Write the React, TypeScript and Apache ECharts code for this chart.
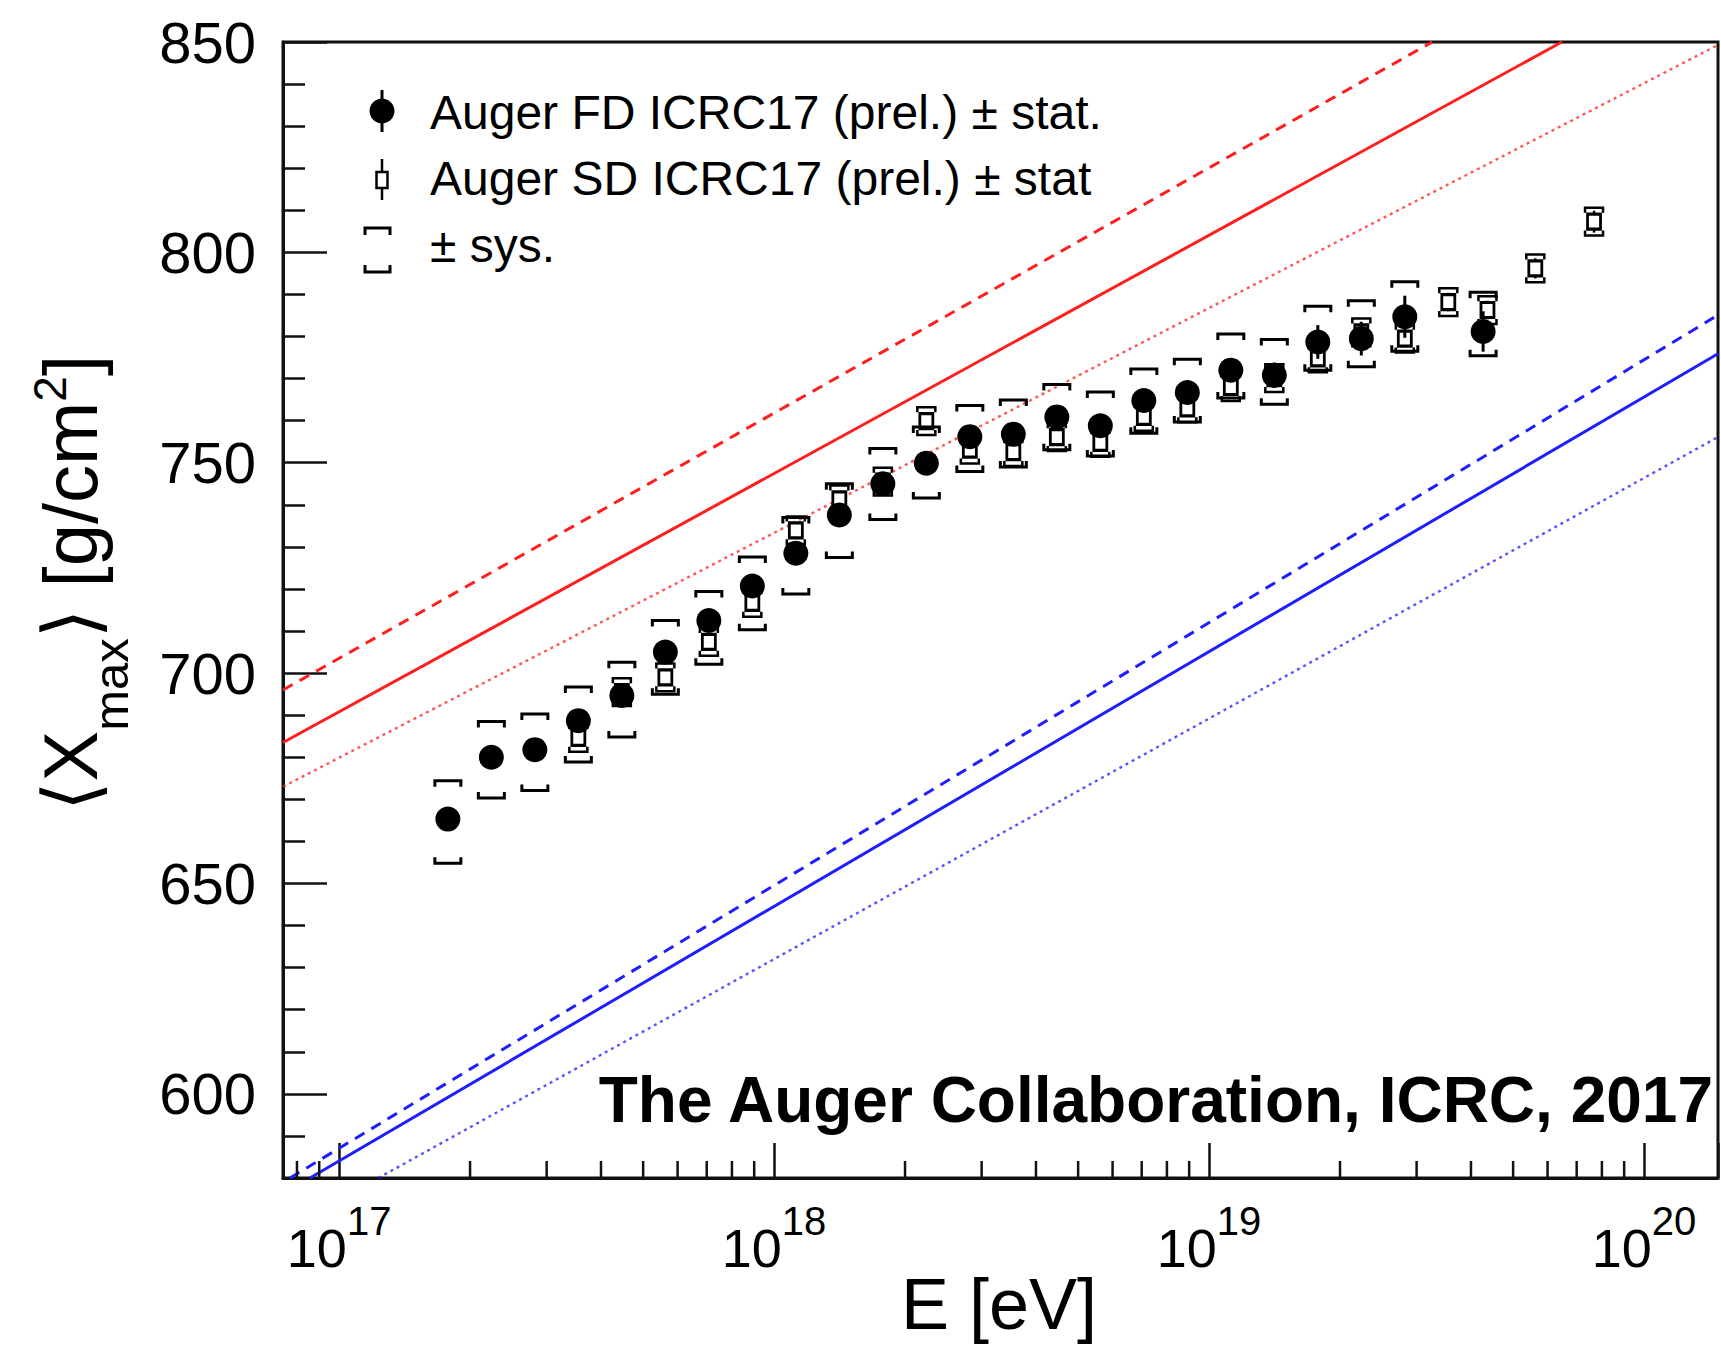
import React, { useEffect, useRef } from "react";
import * as echarts from "echarts";

// ---------------- data ----------------
// Auger FD (filled circles): lg(E/eV), <Xmax>, stat error, sys bracket high/low
const fdLgE = [17.25, 17.35, 17.45, 17.55, 17.65, 17.75, 17.85, 17.95, 18.05, 18.15, 18.25, 18.35,
  18.45, 18.55, 18.65, 18.75, 18.85, 18.95, 19.05, 19.15, 19.25, 19.35, 19.45, 19.63];
const fdXmax = [665.3, 680.0, 681.8, 688.7, 694.7, 705.0, 712.5, 720.7, 728.5, 737.6, 745.0, 749.9,
  756.2, 756.8, 760.9, 758.8, 764.8, 766.7, 772.0, 770.8, 778.7, 779.5, 784.7, 781.2];
const fdStat = [1.5, 1.5, 1.5, 1.5, 1.5, 1.5, 1.5, 1.5, 1.5, 1.5, 1.5, 1.5,
  1.5, 1.8, 2.0, 2.0, 2.2, 2.5, 2.8, 3.0, 4.0, 4.0, 5.0, 4.8];
const fdSysHigh = [674.4, 688.5, 690.3, 696.7, 702.6, 712.5, 719.4, 727.6, 737.0, 745.0, 753.4, 758.5,
  763.6, 764.9, 768.6, 766.8, 772.3, 774.6, 780.6, 779.3, 787.2, 788.5, 793.0, 790.5];
const fdSysLow = [654.8, 670.3, 672.1, 678.9, 684.8, 695.0, 702.1, 710.3, 718.8, 727.5, 736.5, 741.6,
  747.9, 749.0, 753.1, 751.6, 757.0, 759.7, 765.4, 763.9, 772.0, 772.8, 776.5, 775.4];

// Auger SD (open squares)
const sdLgE = [17.55, 17.65, 17.75, 17.85, 17.95, 18.05, 18.15, 18.25, 18.35, 18.45, 18.55, 18.65,
  18.75, 18.85, 18.95, 19.05, 19.15, 19.25, 19.35, 19.45, 19.55, 19.64, 19.75, 19.885];
const sdXmax = [684.6, 695.5, 699.0, 707.4, 716.7, 733.9, 741.3, 745.5, 759.9, 753.1, 752.5, 756.1,
  754.7, 760.9, 762.9, 768.0, 770.1, 774.8, 781.0, 779.5, 788.2, 786.3, 796.2, 807.3];
const sdStat = [1.5, 1.5, 1.5, 1.5, 1.5, 1.5, 1.5, 1.5, 1.5, 1.5, 1.5, 1.5,
  1.5, 1.5, 1.5, 1.5, 1.8, 1.8, 2.0, 2.0, 2.2, 2.2, 2.4, 2.6];
const sdSysPlus = [3.3, 3.3, 3.3, 3.3, 3.3, 3.3, 3.3, 3.3, 3.3, 3.3, 3.3, 3.3,
  3.3, 3.3, 3.3, 3.3, 3.3, 3.3, 3.3, 3.3, 3.3, 3.3, 3.3, 3.3];
const sdSysMinus = [3.3, 3.3, 3.3, 3.3, 3.3, 3.3, 3.3, 3.3, 3.3, 3.3, 3.3, 3.3,
  3.3, 3.3, 3.3, 3.3, 3.3, 3.3, 3.3, 3.3, 3.3, 3.3, 3.3, 3.3];

// model lines: [lg(E), Xmax] where each line meets the frame
const protonSolid = [[16.871, 683.5], [19.811, 850.0]];
const protonDashed = [[16.871, 696.0], [19.513, 850.0]];
const protonDotted = [[16.871, 673.0], [20.170, 849.3]];
const ironSolid = [[16.933, 580.0], [20.170, 775.9]];
const ironDashed = [[16.887, 580.0], [20.170, 785.1]];
const ironDotted = [[17.090, 580.0], [20.170, 756.1]];

// axes
const xLgMin = 16.871;
const xLgMax = 20.17;
const yMin = 580;
const yMax = 850;
const xMajorExponents = [17, 18, 19, 20];
const xMinorMantissas = [2, 3, 4, 5, 6, 7, 8, 9];
const xMinorDecades = [16, 17, 18, 19];

const legendLabels = [
  "Auger FD ICRC17 (prel.) \u00b1 stat.",
  "Auger SD ICRC17 (prel.) \u00b1 stat",
  "\u00b1 sys.",
];
const creditText = "The Auger Collaboration, ICRC, 2017";

const FONT = "'Liberation Sans', Arial, Helvetica, sans-serif";
const RED = "#ff1e1e";
const BLUE = "#1e1eff";
const INK = "#111111";

const toE = (lg: number) => Math.pow(10, lg);

export default function App() {
  const ref = useRef<HTMLDivElement>(null);

  useEffect(() => {
    document.body.style.margin = "0";
    if (!ref.current) return;
    const chart = echarts.init(ref.current, undefined, { renderer: "svg" });

    const lineSeries = (pts: number[][], color: string, type: any, width: number, opacity = 1) => ({
      type: "line",
      data: pts.map((p) => [toE(p[0]), p[1]]),
      showSymbol: false,
      symbol: "none",
      silent: true,
      clip: true,
      z: 1,
      lineStyle: { color, width, type, opacity, cap: "butt" },
    });

    const minorTicks: number[][] = [];
    xMinorDecades.forEach((d) =>
      xMinorMantissas.forEach((m) => {
        const v = m * Math.pow(10, d);
        if (v > toE(xLgMin) && v < toE(xLgMax)) minorTicks.push([v, yMin]);
      })
    );

    const errRender = (w: number, h: number, lw: number) => (params: any, api: any) => {
      const e = api.value(0);
      const v = api.value(1);
      const [cx] = api.coord([e, v]);
      const yHi = api.coord([e, api.value(2)])[1];
      const yLo = api.coord([e, api.value(3)])[1];
      const yS1 = api.coord([e, v + api.value(4)])[1];
      const yS2 = api.coord([e, v - api.value(4)])[1];
      const st = { stroke: "#000", lineWidth: lw, fill: "none" };
      return {
        type: "group",
        children: [
          { type: "line", shape: { x1: cx, y1: yS1, x2: cx, y2: yS2 }, style: { stroke: "#000", lineWidth: lw } },
          { type: "polyline", shape: { points: [[cx - w, yHi + h], [cx - w, yHi], [cx + w, yHi], [cx + w, yHi + h]] }, style: st },
          { type: "polyline", shape: { points: [[cx - w, yLo - h], [cx - w, yLo], [cx + w, yLo], [cx + w, yLo - h]] }, style: st },
        ],
      };
    };

    const option: any = {
      animation: false,
      backgroundColor: "#ffffff",
      grid: { left: 283, right: 3, top: 42, bottom: 171, show: true, borderColor: INK, borderWidth: 3, backgroundColor: "transparent" },
      xAxis: {
        type: "log",
        logBase: 10,
        min: toE(xLgMin),
        max: toE(xLgMax),
        axisLine: { show: true, onZero: false, lineStyle: { color: INK, width: 3 } },
        axisTick: { show: true, inside: true, length: 35, lineStyle: { color: INK, width: 2.5 } },
        minorTick: { show: false },
        splitLine: { show: false },
        axisLabel: {
          margin: 10,
          color: "#000",
          formatter: (v: number) => {
            const lg = Math.log10(v);
            const r = Math.round(lg);
            if (Math.abs(lg - r) > 1e-6 || xMajorExponents.indexOf(r) < 0) return "";
            return `{b|10}{s|${r}}`;
          },
          rich: {
            b: { fontSize: 54, lineHeight: 120, fontFamily: FONT, color: "#000" },
            s: { fontSize: 40, verticalAlign: "top", padding: [13, 0, 0, 0], fontFamily: FONT, color: "#000" },
          },
        },
      },
      yAxis: {
        type: "value",
        min: yMin,
        max: yMax,
        splitNumber: 5,
        minInterval: 50,
        maxInterval: 50,
        axisLine: { show: true, onZero: false, lineStyle: { color: INK, width: 3 } },
        axisTick: { show: true, inside: true, length: 44, lineStyle: { color: INK, width: 2.5 } },
        minorTick: { show: true, splitNumber: 5, length: 22, lineStyle: { color: INK, width: 2.5 } },
        splitLine: { show: false },
        axisLabel: {
          margin: 27,
          fontSize: 58,
          fontFamily: FONT,
          color: "#000",
          formatter: (v: number) => (v % 50 === 0 ? String(v) : ""),
        },
      },
      series: [
        lineSeries(protonDashed, RED, [11, 8], 3),
        lineSeries(protonSolid, RED, "solid", 3),
        lineSeries(protonDotted, RED, [3, 4], 2.4, 0.75),
        lineSeries(ironDashed, BLUE, [11, 8], 3),
        lineSeries(ironSolid, BLUE, "solid", 3),
        lineSeries(ironDotted, BLUE, [3, 4], 2.4, 0.75),
        {
          type: "custom",
          silent: true,
          z: 6,
          data: minorTicks,
          encode: { x: 0, y: 1 },
          renderItem: (params: any, api: any) => {
            const p = api.coord([api.value(0), api.value(1)]);
            return { type: "line", shape: { x1: p[0], y1: p[1], x2: p[0], y2: p[1] - 17 }, style: { stroke: INK, lineWidth: 2.5 } };
          },
        },
        {
          type: "custom",
          silent: true,
          z: 2,
          data: sdLgE.map((lg, i) => [toE(lg), sdXmax[i], sdXmax[i] + sdSysPlus[i], sdXmax[i] - sdSysMinus[i], sdStat[i]]),
          encode: { x: 0, y: 1 },
          renderItem: errRender(9, 5, 2.5),
        },
        {
          type: "scatter",
          silent: true,
          z: 3,
          symbol: "rect",
          symbolSize: [13, 15],
          itemStyle: { color: "#ffffff", borderColor: "#000", borderWidth: 3, opacity: 1 },
          data: sdLgE.map((lg, i) => [toE(lg), sdXmax[i]]),
        },
        {
          type: "custom",
          silent: true,
          z: 4,
          data: fdLgE.map((lg, i) => [toE(lg), fdXmax[i], fdSysHigh[i], fdSysLow[i], fdStat[i]]),
          encode: { x: 0, y: 1 },
          renderItem: errRender(13, 6, 3),
        },
        {
          type: "scatter",
          silent: true,
          z: 5,
          symbol: "circle",
          symbolSize: 25,
          itemStyle: { color: "#000", opacity: 1 },
          data: fdLgE.map((lg, i) => [toE(lg), fdXmax[i]]),
        },
      ],
      graphic: [
        // legend markers
        { type: "line", shape: { x1: 382, y1: 90, x2: 382, y2: 132 }, style: { stroke: "#000", lineWidth: 3 }, z: 10 },
        { type: "circle", shape: { cx: 382, cy: 111, r: 12.5 }, style: { fill: "#000" }, z: 10 },
        { type: "line", shape: { x1: 382, y1: 159, x2: 382, y2: 200 }, style: { stroke: "#000", lineWidth: 2.5 }, z: 10 },
        { type: "rect", shape: { x: 376.5, y: 172, width: 11, height: 16 }, style: { fill: "#fff", stroke: "#000", lineWidth: 2.5 }, z: 11 },
        { type: "polyline", shape: { points: [[365, 235], [365, 228], [390, 228], [390, 235]] }, style: { stroke: "#000", lineWidth: 3, fill: "none" }, z: 10 },
        { type: "polyline", shape: { points: [[365, 265], [365, 272], [390, 272], [390, 265]] }, style: { stroke: "#000", lineWidth: 3, fill: "none" }, z: 10 },
        // legend texts
        { type: "text", x: 430, y: 112, z: 10, style: { text: legendLabels[0], font: `48px ${FONT}`, fill: "#000", textAlign: "left", textVerticalAlign: "middle" } },
        { type: "text", x: 430, y: 178, z: 10, style: { text: legendLabels[1], font: `48px ${FONT}`, fill: "#000", textAlign: "left", textVerticalAlign: "middle" } },
        { type: "text", x: 430, y: 245, z: 10, style: { text: legendLabels[2], font: `48px ${FONT}`, fill: "#000", textAlign: "left", textVerticalAlign: "middle" } },
        // credit
        { type: "text", x: 1713, y: 1100, z: 10, style: { text: creditText, font: `bold 64px ${FONT}`, fill: "#000", textAlign: "right", textVerticalAlign: "middle" } },
        // x axis title
        { type: "text", x: 999, y: 1304, z: 10, style: { text: "E [eV]", font: `72px ${FONT}`, fill: "#000", textAlign: "center", textVerticalAlign: "middle" } },
        // y axis title
        {
          type: "text",
          x: 70,
          y: 583,
          rotation: Math.PI / 2,
          z: 10,
          style: {
            text: "{ang|\u27e8}{b|X}{sub|max}{ang|\u27e9}{b| [g/cm}{sup|2}{b|]}",
            textAlign: "center",
            textVerticalAlign: "middle",
            fill: "#000",
            rich: {
              ang: { fontSize: 76, lineHeight: 130, fontFamily: "'DejaVu Sans', sans-serif", fill: "#000" },
              b: { fontSize: 76, lineHeight: 130, fontFamily: FONT, fill: "#000" },
              sub: { fontSize: 49, verticalAlign: "bottom", fontFamily: FONT, fill: "#000" },
              sup: { fontSize: 46, verticalAlign: "top", padding: [22, 0, 0, 0], fontFamily: FONT, fill: "#000" },
            },
          },
        },
      ],
    };

    chart.setOption(option);
    return () => chart.dispose();
  }, []);

  return <div ref={ref} style={{ width: 1721, height: 1349 }} />;
}
